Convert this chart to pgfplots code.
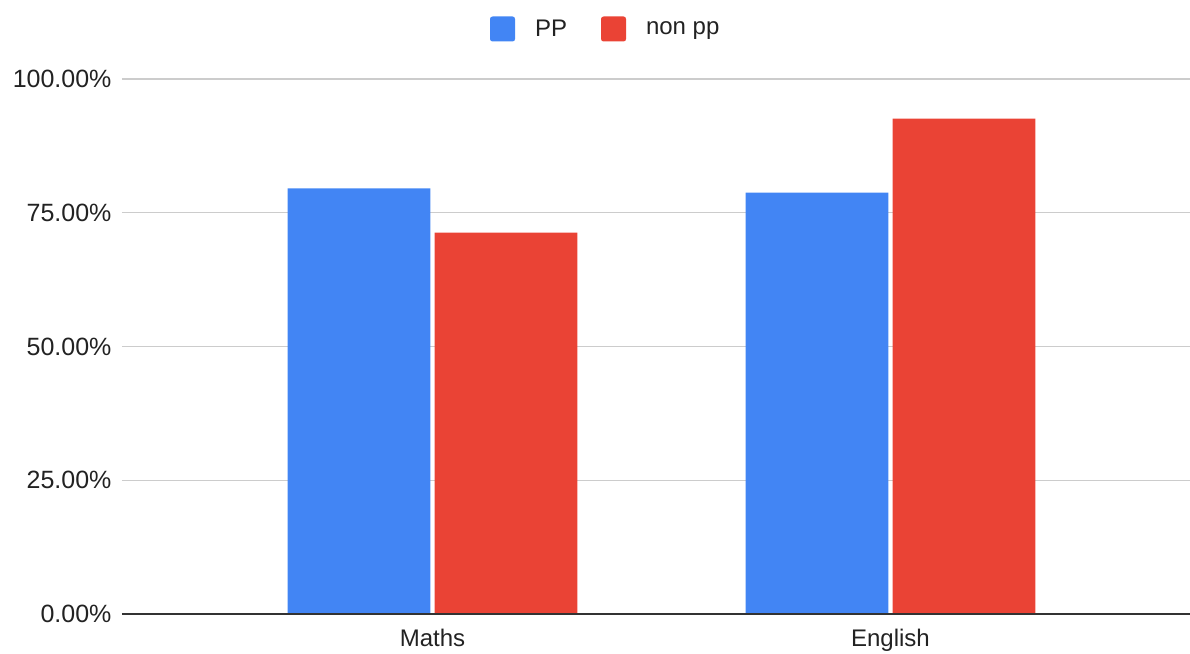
\documentclass[border=0pt]{standalone}
\usepackage{pgfplots}
\pgfplotsset{compat=1.18}
\usepackage{fontspec}
\setmainfont{Liberation Sans}
\definecolor{ppblue}{HTML}{4285F4}
\definecolor{npred}{HTML}{EA4335}
\definecolor{gridc}{HTML}{CCCCCC}
\definecolor{basec}{HTML}{333333}
\definecolor{textc}{HTML}{222222}
\begin{document}
\begin{tikzpicture}[font=\fontsize{24}{29}\selectfont]
\begin{axis}[
  scale only axis, width=1068pt, height=535pt,
  ymin=0, ymax=100, xmin=-0.678, xmax=1.654,
  axis line style={draw=none},
  ytick={0,25,50,75,100},
  yticklabels={0.00\%,25.00\%,50.00\%,75.00\%,100.00\%},
  xtick={0,1}, xticklabels={Maths,English},
  ymajorgrids, grid style={color=gridc, line width=1.3pt},
  major tick length=0pt,
  tick label style={text=textc},
  yticklabel style={xshift=-7pt, font=\fontsize{25}{30}\selectfont},
  xticklabel style={yshift=-12pt},
  legend columns=2,
  legend style={at={(0.452,1)}, anchor=center, yshift=50pt, draw=none, fill=none, inner sep=0pt,
    nodes={inner sep=0pt, text=textc},
    /tikz/every odd column/.style={column sep=20pt},
    /tikz/every even column/.style={column sep=34pt}},
  legend image code/.code={\fill[#1,rounded corners=2.5pt] (0pt,-12.5pt) rectangle (25pt,12.5pt);},
]
\addplot[ybar, bar width=0.312, bar shift=-0.1605, fill=ppblue, draw=none] coordinates {(0,79.57) (1,78.75)};
\addplot[ybar, bar width=0.312, bar shift=0.1605, fill=npred, draw=none] coordinates {(0,71.27) (1,92.58)};
\legend{PP, non pp}
\draw[basec, line width=1.6pt] (rel axis cs:0,0) -- (rel axis cs:1,0);
\end{axis}
\pgfresetboundingbox
\path[use as bounding box] (current axis.south west) ++(-122pt,-39pt) rectangle ++(1190pt,653pt);
\end{tikzpicture}
\end{document}
